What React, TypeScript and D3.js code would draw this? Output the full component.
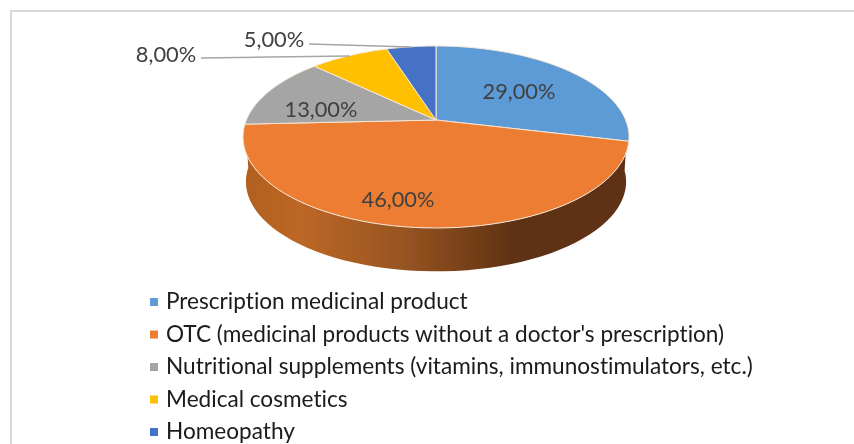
import React from 'react';
import * as d3 from 'd3';

const categories = [
  'Prescription medicinal product',
  "OTC (medicinal products without a doctor's prescription)",
  'Nutritional supplements (vitamins, immunostimulators, etc.)',
  'Medical cosmetics',
  'Homeopathy',
];
const values = [29, 46, 13, 8, 5];
const labels = ['29,00%', '46,00%', '13,00%', '8,00%', '5,00%'];
const colors = ['#5b9bd5', '#ed7d31', '#a5a5a5', '#ffc000', '#4472c4'];

const W = 854, H = 444;
const cx = 436, cy = 120;
const TOP = 74, BOTTOM = 108, HALF_W = 193, DEPTH = 45;
const k = -(BOTTOM - TOP) / (BOTTOM + TOP);
const a = TOP * (1 - k);
const c = HALF_W * Math.sqrt(1 - k * k);

function project(t: number, scale = 1, dy = 0): [number, number] {
  const u = Math.sin(t), v = -Math.cos(t), w = 1 + k * v;
  return [cx + (scale * c * u) / w, cy + dy + (scale * a * v) / w];
}
const sample = (t0: number, t1: number, scale = 1, dy = 0) =>
  d3.range(0, 61).map((i) => project(t0 + ((t1 - t0) * i) / 60, scale, dy));

const line = d3.line();
const pie = d3.pie<number>().sort(null)(values);
const color = d3.scaleOrdinal<number, string>().domain(d3.range(5)).range(colors);

const labelPos: [number, number][] = [[519, 90], [398, 198], [321, 108], [166, 53], [274, 38]];
const leaders: [number, number][][] = [
  [],
  [],
  [],
  [[201, 58], [349, 56]],
  [[309, 44], [411, 47]],
];

const legendBaseline = d3.scalePoint<number>().domain(d3.range(5)).range([309, 439]);

export default function App() {
  const wallStart = Math.PI * 0.52;
  const wallEnd = Math.PI * 1.49;
  const wall = [
    ...sample(wallStart, wallEnd),
    ...sample(wallEnd, wallStart, 0.985, DEPTH),
  ] as [number, number][];
  return (
    <svg width={W} height={H} style={{ position: 'absolute', left: 0, top: 0, fontVariantLigatures: 'none' }} fontFamily="Lato, Carlito, sans-serif">
      <defs>
        <linearGradient id="wall" x1="243" x2="629" y1="0" y2="0" gradientUnits="userSpaceOnUse">
          <stop offset="0" stopColor="#b0601f" />
          <stop offset="0.15" stopColor="#bd6726" />
          <stop offset="0.4" stopColor="#9a5622" />
          <stop offset="0.7" stopColor="#5f3213" />
          <stop offset="1" stopColor="#5f3213" />
        </linearGradient>
        <filter id="soft" x="-5%" y="-5%" width="110%" height="110%">
          <feGaussianBlur stdDeviation="0.35" />
        </filter>
      </defs>
      <rect width={W} height={H} fill="#fff" />
      <path d="M 11 444 V 11 H 854" fill="none" stroke="#d9d9d9" strokeWidth={2} />
      <g filter="url(#soft)">
        <path d={line(wall) + 'Z'} fill="url(#wall)" />
        {pie.map((s, i) => {
          const pts = [[cx, cy], ...sample(s.startAngle, s.endAngle)] as [number, number][];
          return (
            <path key={i} d={line(pts) + 'Z'} fill={color(i)} stroke="#f6e6d6" strokeWidth={1} strokeLinejoin="round" />
          );
        })}
        {leaders.map((pts, i) =>
          pts.length ? (
            <path key={i} d={line(pts) || ''} fill="none" stroke="#a6a6a6" strokeWidth={1.4} />
          ) : null,
        )}
        {labels.map((t, i) => (
          <text key={t} x={labelPos[i][0]} y={labelPos[i][1]} fontSize={21.8} fill="#404040" textAnchor="middle" dominantBaseline="central">
            {t}
          </text>
        ))}
        {categories.map((t, i) => (
          <g key={t}>
            <rect x={150} y={legendBaseline(i)! - 11} width={8} height={8} fill={color(i)} />
            <text x={166} y={legendBaseline(i)!} fontSize={22.6} fill="#1a1a1a">
              {t}
            </text>
          </g>
        ))}
      </g>
    </svg>
  );
}
